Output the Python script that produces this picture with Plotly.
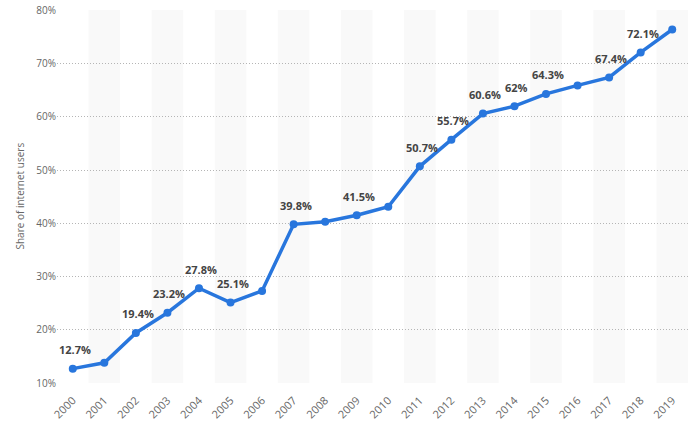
import plotly.graph_objects as go

# Share of internet users by year
years = [str(y) for y in range(2000, 2020)]
share = [12.7, 13.8, 19.4, 23.2, 27.8, 25.1, 27.3, 39.8, 40.3, 41.5,
         43.1, 50.7, 55.7, 60.6, 62.0, 64.3, 65.9, 67.4, 72.1, 76.4]
# which points get a value label
labelled = [True, False, True, True, True, True, False, True, False, True,
            False, True, True, True, True, True, False, True, True, False]

blue = '#2876dd'
grey = '#666666'

fig = go.Figure()

# alternating column shading
shapes = []
for i in range(len(years)):
    if i % 2 == 1:
        shapes.append(dict(type='rect', xref='x', yref='paper',
                           x0=i - 0.5, x1=i + 0.5, y0=0, y1=1,
                           fillcolor='#f9f9f9', line=dict(width=0),
                           layer='below'))

fig.add_trace(go.Scatter(
    x=years, y=share,
    mode='lines+markers',
    line=dict(color=blue, width=3.5),
    marker=dict(color=blue, size=8),
    hoverinfo='x+y',
    showlegend=False,
))

annotations = []
for i, (v, show) in enumerate(zip(share, labelled)):
    if not show:
        continue
    annotations.append(dict(x=i, y=v, xref='x', yref='y',
                            text='<b>{:g}%</b>'.format(v),
                            showarrow=False, yshift=19, xshift=2,
                            font=dict(size=11, color='#444444')))

# y axis title
annotations.append(dict(x=0, y=0.5, xref='paper', yref='paper',
                        xshift=-47, text='Share of internet users',
                        textangle=-90, showarrow=False,
                        font=dict(size=10, color=grey)))

fig.update_layout(
    width=696, height=437,
    margin=dict(l=57, r=8, t=10, b=54, autoexpand=False),
    plot_bgcolor='white',
    paper_bgcolor='white',
    font=dict(family='Open Sans', size=10, color=grey),
    shapes=shapes,
    annotations=annotations,
    xaxis=dict(type='category', range=[-0.5, 19.5], showgrid=False,
               zeroline=False, showline=False, tickangle=-45,
               ticks='', automargin=False, ticklabelstandoff=8,
               tickfont=dict(size=11, color=grey)),
    # a hair above 80 so the top grid line is not dropped at the edge
    yaxis=dict(range=[10, 80.06], dtick=10, ticksuffix='%',
               showgrid=True, gridcolor='#b5b5b5', griddash='1px,2px',
               gridwidth=1, zeroline=False, showline=False,
               ticks='', ticklen=0, automargin=False,
               tickfont=dict(size=10, color=grey)),
)

# drop the default 8px page margin so the figure sits at the window corner
fig.write_html('out.html', config={'displayModeBar': False},
               post_script="document.body.style.margin='0';")
